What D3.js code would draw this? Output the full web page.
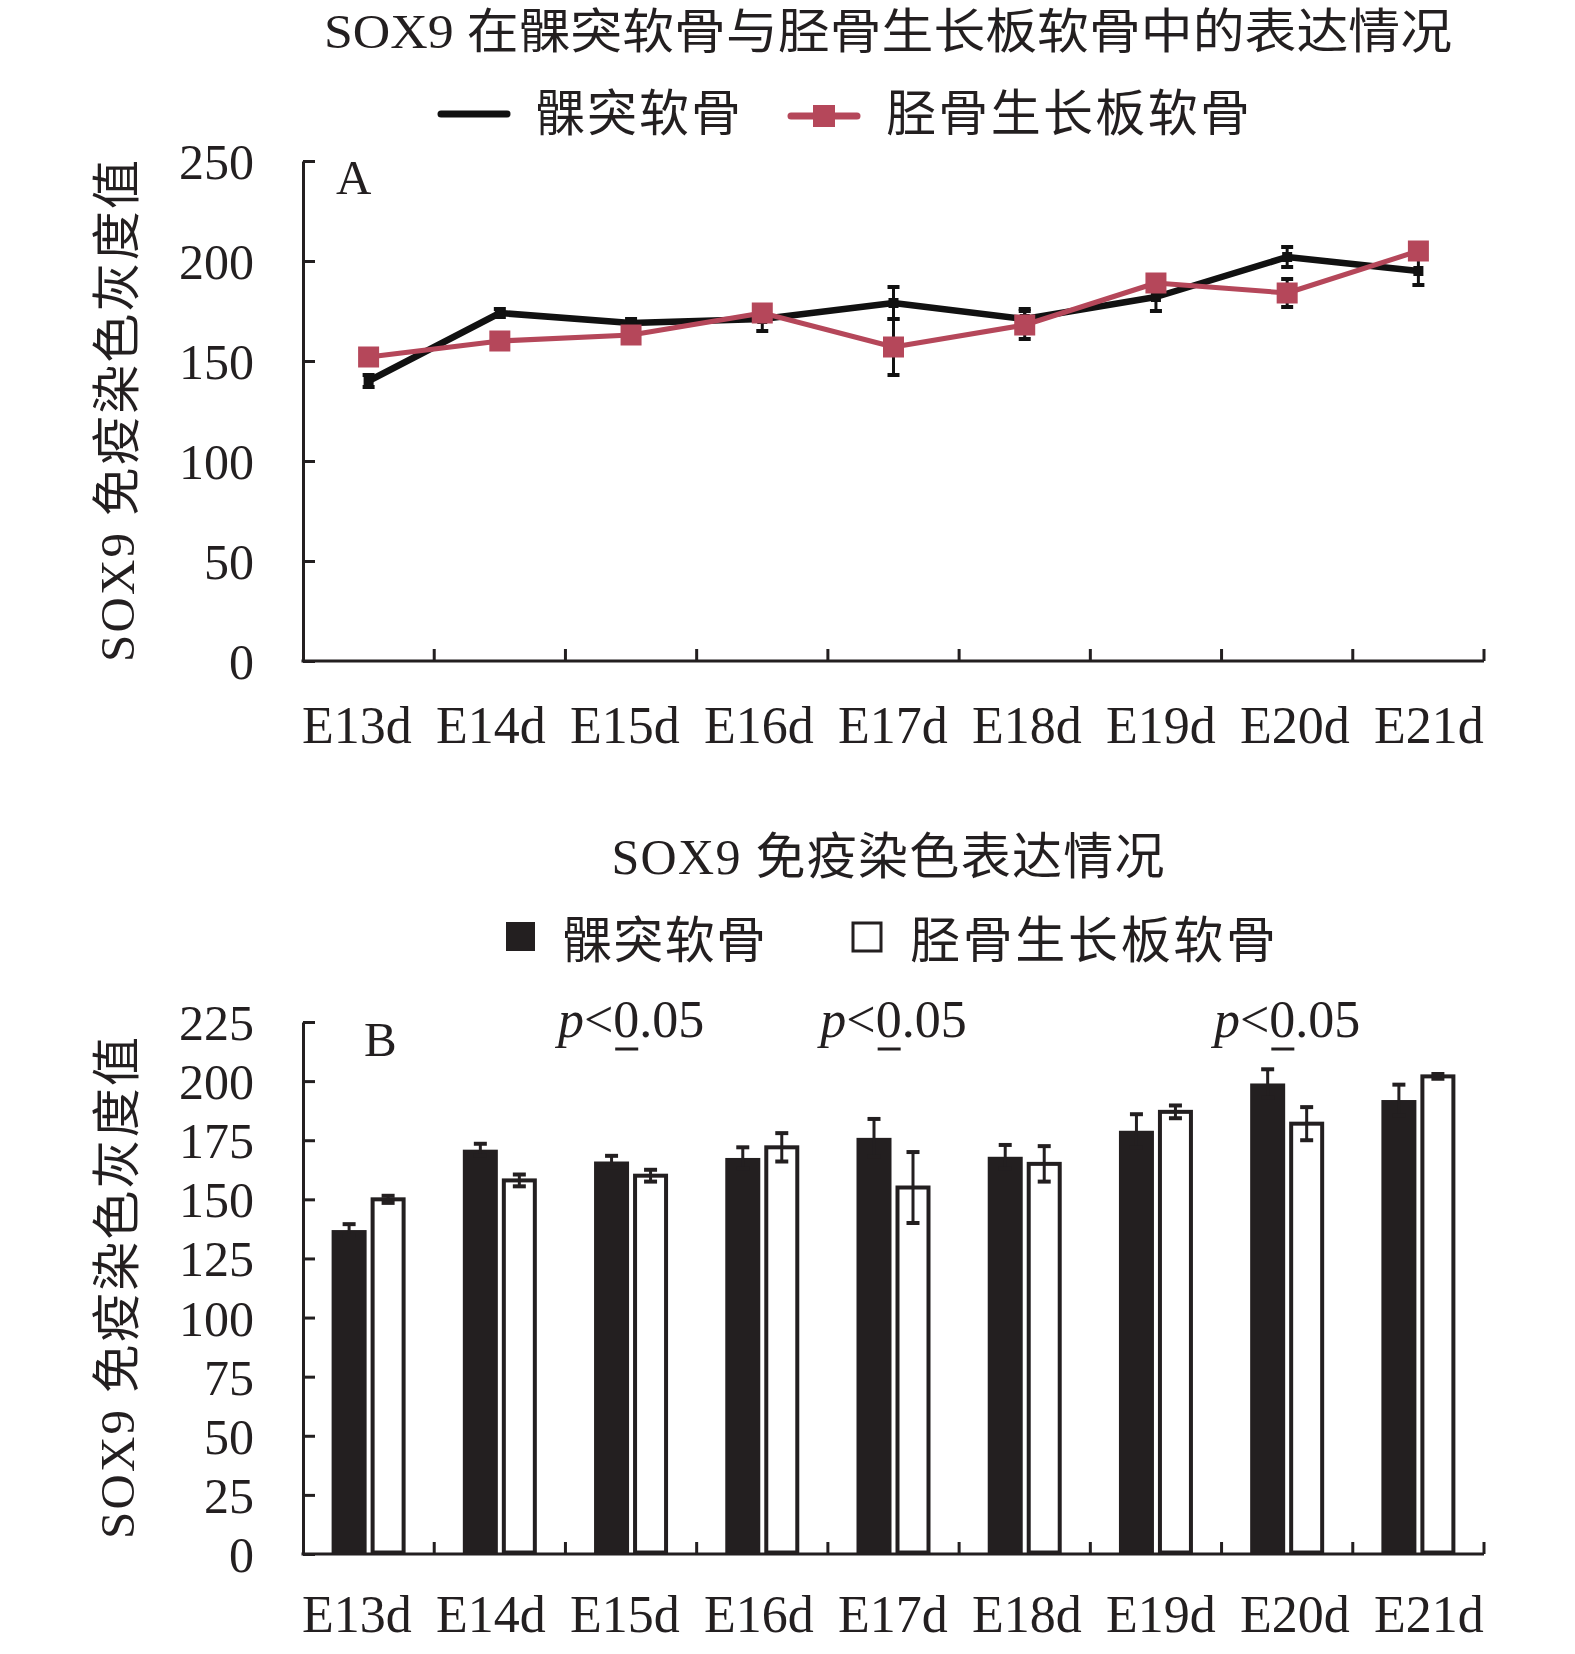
<!DOCTYPE html>
<html><head><meta charset="utf-8">
<script src="https://cdn.jsdelivr.net/npm/d3@7"></script>
<style>body{margin:0;background:#fff}</style>
</head><body><svg id="c" width="1575" height="1654"></svg>
<script>
const categories = ["E13d","E14d","E15d","E16d","E17d","E18d","E19d","E20d","E21d"];
const seriesNames = ["髁突软骨","胫骨生长板软骨"];
// Panel A (line chart)
const condyleA    = [140, 174, 169, 171, 179, 171, 182, 202, 195];
const condyleAErr = [3, 2, 2, 6, 8, 5, 7, 5, 7];
const tibiaA      = [152, 160, 163, 174, 157, 168, 189, 184, 205];
const tibiaAErr   = [2, 2, 2, 4, 14, 7, 2, 7, 2];
// Panel B (bar chart)
const condyleB    = [137, 171, 166, 167.5, 176, 168, 179, 199, 192];
const condyleBErr = [2.5, 2.5, 2.4, 4.5, 8, 5, 7, 6, 6.5];
const tibiaB      = [150, 158, 160, 172, 155, 165, 187, 182, 202];
const tibiaBErr   = [1.5, 2.5, 2.5, 6, 15, 7.5, 2.7, 7, 1];
const yTicksA = [0, 50, 100, 150, 200, 250];
const yTicksB = [0, 25, 50, 75, 100, 125, 150, 175, 200, 225];
const sigCats = ["E15d", "E17d", "E20d"];
const titleA = "SOX9 在髁突软骨与胫骨生长板软骨中的表达情况";
const titleB = "SOX9 免疫染色表达情况";
const yLabel = "SOX9 免疫染色灰度值";

const FONT = '"Liberation Serif","Noto Sans CJK SC",serif';
const INK = "#231f20";
const RED = "#b5475a";
const svg = d3.select("#c");
svg.append("rect").attr("width",1575).attr("height",1654).attr("fill","#fff");

const L = 303, R = 1484;
const x = d3.scaleBand().domain(categories).range([L, R]).padding(0);
const xc = c => x(c) + x.bandwidth()/2;
const xLab = d3.scalePoint().domain(categories).range([357, 1429]);

function txt(g, s, px, py, size, anchor) {
  return g.append("text").attr("x", px).attr("y", py).attr("font-family", FONT)
    .attr("font-size", size).attr("fill", INK).attr("text-anchor", anchor || "middle").text(s);
}

function drawAxes(y, ticks, label, letter, letterY, labOff) {
  const g = svg.append("g");
  const yAxis = d3.axisLeft(y).tickValues(ticks).tickSize(-12).tickSizeOuter(0).tickPadding(49);
  const ga = g.append("g").attr("transform", `translate(${L},0)`).call(yAxis);
  ga.select(".domain").attr("stroke", INK).attr("stroke-width", 3);
  ga.selectAll(".tick line").attr("stroke", INK).attr("stroke-width", 3);
  ga.selectAll(".tick text").attr("font-family", FONT).attr("font-size", 50).attr("fill", INK).attr("dy", "0.35em");
  const y0 = y(0);
  g.append("line").attr("x1", L - 1.5).attr("x2", R).attr("y1", y0).attr("y2", y0)
    .attr("stroke", INK).attr("stroke-width", 3);
  g.selectAll(".xt").data(categories).join("line")
    .attr("x1", d => x(d) + x.bandwidth()).attr("x2", d => x(d) + x.bandwidth())
    .attr("y1", y0).attr("y2", y0 - 12).attr("stroke", INK).attr("stroke-width", 3);
  g.selectAll(".xl").data(categories).join("text")
    .attr("x", d => xLab(d)).attr("y", y0 + labOff).attr("text-anchor", "middle")
    .attr("font-family", FONT).attr("font-size", 52).attr("fill", INK).text(d => d);
  const [ya, yb] = y.range();
  const cy = (ya + yb) / 2;
  g.append("text").attr("transform", `translate(134,${cy}) rotate(-90)`)
    .attr("text-anchor", "middle").attr("font-family", FONT).attr("font-size", 49).attr("fill", INK)
    .attr("textLength", 502).attr("lengthAdjust", "spacing").text(label);
  txt(g, letter.t, letter.x, letterY, 49, "start");
}

// ---------------- Panel A ----------------
const yA = d3.scaleLinear().domain([0, 250]).range([661, 161]);
txt(svg, titleA, 888, 48, 48).attr("textLength", 1128).attr("lengthAdjust", "spacingAndGlyphs");
svg.append("line").attr("x1", 441).attr("x2", 507).attr("y1", 114).attr("y2", 114)
  .attr("stroke", "#111").attr("stroke-width", 7).attr("stroke-linecap", "round");
txt(svg, seriesNames[0], 535, 131, 50, "start").attr("textLength", 206);
svg.append("line").attr("x1", 791).attr("x2", 857).attr("y1", 116).attr("y2", 116)
  .attr("stroke", RED).attr("stroke-width", 7).attr("stroke-linecap", "round");
svg.append("rect").attr("x", 813).attr("y", 105).attr("width", 22).attr("height", 22).attr("fill", RED);
txt(svg, seriesNames[1], 886, 131, 50, "start").attr("textLength", 364);

drawAxes(yA, yTicksA, yLabel, {t: "A", x: 336}, 194, 82);

const line = d3.line().x((d, i) => xc(categories[i])).y(d => yA(d));
const gA = svg.append("g");
gA.append("path").datum(condyleA).attr("d", line).attr("fill", "none")
  .attr("stroke", "#111").attr("stroke-width", 6.5).attr("stroke-linejoin", "round");
gA.append("path").datum(tibiaA).attr("d", line).attr("fill", "none")
  .attr("stroke", RED).attr("stroke-width", 5).attr("stroke-linejoin", "round");
function errA(vals, errs) {
  const g = gA.append("g").attr("stroke", "#111").attr("stroke-width", 3);
  categories.forEach((c, i) => {
    const cx = xc(c), t = yA(vals[i] + errs[i]), b = yA(vals[i] - errs[i]);
    g.append("line").attr("x1", cx).attr("x2", cx).attr("y1", t).attr("y2", b);
    g.append("line").attr("x1", cx - 6).attr("x2", cx + 6).attr("y1", t).attr("y2", t).attr("stroke-width", 4);
    g.append("line").attr("x1", cx - 6).attr("x2", cx + 6).attr("y1", b).attr("y2", b).attr("stroke-width", 4);
  });
}
errA(condyleA, condyleAErr);
errA(tibiaA, tibiaAErr);
gA.selectAll(".bm").data(condyleA).join("rect")
  .attr("x", (d, i) => xc(categories[i]) - 5).attr("y", d => yA(d) - 5)
  .attr("width", 10).attr("height", 10).attr("fill", "#111");
gA.selectAll(".rm").data(tibiaA).join("rect")
  .attr("x", (d, i) => xc(categories[i]) - 10.5).attr("y", d => yA(d) - 10.5)
  .attr("width", 21).attr("height", 21).attr("fill", RED);

// ---------------- Panel B ----------------
const yB = d3.scaleLinear().domain([0, 225]).range([1554, 1022]);
txt(svg, titleB, 888, 874, 50).attr("textLength", 553);
svg.append("rect").attr("x", 506).attr("y", 922).attr("width", 29).attr("height", 29).attr("fill", INK);
txt(svg, seriesNames[0], 562, 958, 50, "start").attr("textLength", 204);
svg.append("rect").attr("x", 853).attr("y", 923).attr("width", 28).attr("height", 28)
  .attr("fill", "#fff").attr("stroke", INK).attr("stroke-width", 3);
txt(svg, seriesNames[1], 910, 958, 50, "start").attr("textLength", 366);

drawAxes(yB, yTicksB, yLabel, {t: "B", x: 364}, 1056, 78);

const gB = svg.append("g");
const bw = 35;
gB.selectAll(".bb").data(condyleB).join("rect")
  .attr("x", (d, i) => xc(categories[i]) - 2 - bw).attr("y", d => yB(d))
  .attr("width", bw).attr("height", d => yB(0) - yB(d)).attr("fill", INK);
gB.selectAll(".wb").data(tibiaB).join("rect")
  .attr("x", (d, i) => xc(categories[i]) + 4).attr("y", d => yB(d))
  .attr("width", bw - 4).attr("height", d => yB(0) - yB(d) - 1.5)
  .attr("fill", "#fff").attr("stroke", INK).attr("stroke-width", 4);
function errB(vals, errs, off) {
  const g = gB.append("g").attr("stroke", INK).attr("stroke-width", 3);
  categories.forEach((c, i) => {
    const cx = xc(c) + off, t = yB(vals[i] + errs[i]), b = yB(vals[i] - errs[i]);
    g.append("line").attr("x1", cx).attr("x2", cx).attr("y1", t).attr("y2", b);
    g.append("line").attr("x1", cx - 6.5).attr("x2", cx + 6.5).attr("y1", t).attr("y2", t).attr("stroke-width", 4);
    g.append("line").attr("x1", cx - 6.5).attr("x2", cx + 6.5).attr("y1", b).attr("y2", b).attr("stroke-width", 4);
  });
}
errB(condyleB, condyleBErr, -2 - bw / 2);
errB(tibiaB, tibiaBErr, 2 + bw / 2);

sigCats.forEach(c => {
  const t = svg.append("text").attr("x", xc(c)).attr("y", 1037).attr("text-anchor", "middle")
    .attr("font-family", FONT).attr("font-size", 52).attr("fill", INK);
  t.append("tspan").attr("font-style", "italic").text("p");
  t.append("tspan").text("<0.05");
  const ext = t.node().getExtentOfChar(2);
  svg.append("line").attr("x1", ext.x + 2).attr("x2", ext.x + ext.width - 1)
    .attr("y1", 1049).attr("y2", 1049).attr("stroke", INK).attr("stroke-width", 3);
});
</script></body></html>
